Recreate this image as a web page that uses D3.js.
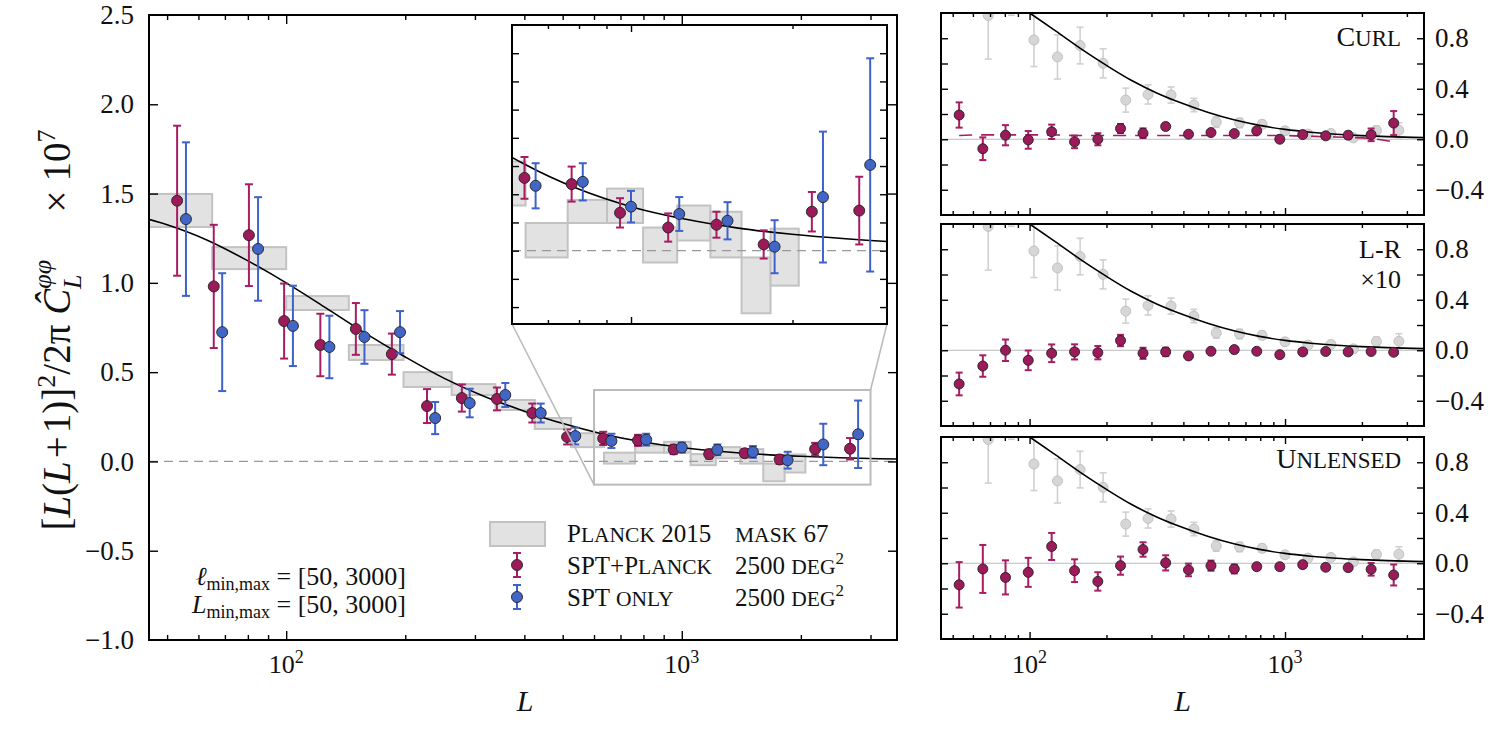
<!DOCTYPE html>
<html>
<head>
<meta charset="utf-8">
<script src="https://cdn.jsdelivr.net/npm/d3@7"></script>
<style>
body { margin: 0; background: #fff; }
text { font-family: "Liberation Serif", "DejaVu Serif", serif; fill: #111; }
</style>
</head>
<body>
<div id="chart"></div>
<script>
// bin centres (red drawn at lRed, blue slightly offset at lBlue)
var lRed  = [53, 65.6, 80.5, 98.8, 122, 150, 185, 227, 278, 341, 419, 513, 633, 775, 954, 1173, 1443, 1767, 2173, 2663];
var lBlue = [55.8, 68.9, 84.9, 104, 128.6, 157.7, 194, 238, 291, 358, 440, 538, 664, 813, 1000, 1230, 1513, 1852, 2279, 2791];

var sptPlanck    = [1.46, 0.98, 1.267, 0.786, 0.652, 0.742, 0.601, 0.31, 0.355, 0.35, 0.271, 0.137, 0.129, 0.118, 0.067, 0.041, 0.046, 0.011, 0.069, 0.071];
var sptPlanckErr = [0.42, 0.345, 0.285, 0.21, 0.175, 0.145, 0.115, 0.095, 0.076, 0.064, 0.053, 0.042, 0.037, 0.031, 0.026, 0.025, 0.023, 0.025, 0.035, 0.06];
var sptOnly      = [1.357, 0.724, 1.19, 0.759, 0.641, 0.697, 0.724, 0.243, 0.327, 0.372, 0.271, 0.142, 0.115, 0.122, 0.078, 0.065, 0.053, 0.007, 0.095, 0.152];
var sptOnlyErr   = [0.43, 0.33, 0.29, 0.225, 0.175, 0.15, 0.118, 0.09, 0.08, 0.067, 0.053, 0.047, 0.04, 0.033, 0.028, 0.03, 0.033, 0.047, 0.116, 0.189];

// Planck 2015 band powers
var planckLmin = [40, 65, 100, 144, 198, 262, 338, 425, 525, 636, 762, 902, 1053, 1219, 1406, 1607, 1820];
var planckLmax = [65, 100, 144, 198, 262, 338, 425, 525, 636, 762, 902, 1053, 1219, 1406, 1607, 1820, 2054];
var planckLo   = [1.313, 1.077, 0.848, 0.568, 0.417, 0.372, 0.288, 0.182, 0.08, -0.012, 0.049, 0.049, -0.021, 0.018, -0.012, -0.111, -0.062];
var planckHi   = [1.498, 1.2, 0.926, 0.652, 0.5, 0.433, 0.344, 0.243, 0.158, 0.049, 0.09, 0.11, 0.041, 0.08, 0.069, -0.012, 0.039];

// fiducial theory curve
var theoryL = [40, 50, 63, 79, 100, 126, 158, 200, 251, 316, 398, 501, 631, 794, 1000, 1259, 1585, 1995, 2512, 3162, 3981];
var theoryV = [1.385, 1.325, 1.24, 1.13, 1.0, 0.86, 0.72, 0.585, 0.465, 0.365, 0.283, 0.212, 0.154, 0.11, 0.078, 0.056, 0.04, 0.029, 0.021, 0.015, 0.011];

// null tests
var curlVal  = [0.192, -0.075, 0.032, -0.005, 0.059, -0.021, 0.0, 0.085, 0.048, 0.101, 0.04, 0.053, 0.045, 0.067, 0.0, 0.037, 0.027, 0.032, 0.035, 0.128];
var curlErr  = [0.1, 0.09, 0.08, 0.07, 0.057, 0.05, 0.048, 0.036, 0.038, 0.023, 0.015, 0.012, 0.01, 0.01, 0.01, 0.01, 0.01, 0.027, 0.05, 0.095];
var curlBias = [0.03, 0.035, 0.035, 0.035, 0.035, 0.03, 0.03, 0.03, 0.03, 0.03, 0.03, 0.03, 0.03, 0.03, 0.03, 0.025, 0.02, 0.015, 0.005, -0.02];
var lrVal    = [-0.267, -0.125, 0.0, -0.08, -0.024, -0.013, -0.019, 0.077, -0.024, -0.013, -0.045, -0.008, 0.005, -0.008, -0.035, -0.013, -0.01, -0.013, -0.01, -0.016];
var lrErr    = [0.09, 0.085, 0.085, 0.078, 0.07, 0.06, 0.053, 0.045, 0.044, 0.033, 0.025, 0.015, 0.012, 0.01, 0.01, 0.01, 0.01, 0.01, 0.01, 0.01];
var unlVal   = [-0.171, -0.045, -0.112, -0.072, 0.133, -0.059, -0.144, -0.019, 0.109, 0.003, -0.053, -0.019, -0.045, -0.027, -0.027, -0.011, -0.032, -0.035, -0.048, -0.093];
var unlErr   = [0.18, 0.19, 0.135, 0.115, 0.107, 0.09, 0.073, 0.072, 0.057, 0.06, 0.05, 0.04, 0.035, 0.02, 0.02, 0.02, 0.015, 0.018, 0.05, 0.083];

var sideNames = ["Curl", "L-R", "Unlensed"];

var red = "#9a1a5a", redBar = "#a81d62", blue = "#4166c6", blueBar = "#3f62ca";

var svg = d3.select("#chart").append("svg")
    .attr("width", 1500)
    .attr("height", 750);
var defs = svg.append("defs");

var xMain = d3.scaleLog().domain([45, 3500]).range([149, 897]);
var yMain = d3.scaleLinear().domain([-1, 2.5]).range([640, 15]);
var xIn = d3.scaleLog().domain([600, 3000]).range([512, 887]);
var yIn = d3.scaleLinear().domain([-0.13, 0.40]).range([324, 25]);
var xSide = d3.scaleLog().domain([45, 3500]).range([941, 1424]);
var sideTops = [13, 224, 437];

var line = function(xs, ys) {
    return d3.line().x(function(d) { return xs(d[0]); }).y(function(d) { return ys(d[1]); }).curve(d3.curveMonotoneX);
};

// LaTeX-like small caps: lower case letters become smaller capitals
function smallCaps(t, str, size, ratio) {
    str.match(/[a-z]+|[^a-z]+/g).forEach(function(run) {
        var low = /[a-z]/.test(run);
        t.append("tspan").style("font-size", (low ? size * ratio : size) + "px").text(run.toUpperCase());
    });
    return t;
}

function clipFor(id, xs, ys) {
    defs.append("clipPath").attr("id", id).append("rect")
        .attr("x", xs.range()[0]).attr("y", ys.range()[1])
        .attr("width", xs.range()[1] - xs.range()[0])
        .attr("height", ys.range()[0] - ys.range()[1]);
    return svg.append("g").attr("clip-path", "url(#" + id + ")");
}

function planckBoxes(g, xs, ys) {
    var rows = planckLmin.map(function(l, i) { return {a: l, b: planckLmax[i], lo: planckLo[i], hi: planckHi[i]}; });
    g.append("g").selectAll("rect")
        .data(rows)
        .enter().append("rect")
        .attr("x", function(d) { return xs(d.a); })
        .attr("width", function(d) { return xs(d.b) - xs(d.a); })
        .attr("y", function(d) { return ys(d.hi); })
        .attr("height", function(d) { return ys(d.lo) - ys(d.hi); })
        .attr("fill", "#e2e2e2")
        .attr("stroke", "#c2c2c2")
        .attr("stroke-width", 2);
}

function errPoints(g, xs, ys, ls, vs, es, st) {
    var rows = ls.map(function(l, i) { return {l: l, v: vs[i], e: es[i]}; });
    var grp = g.append("g");
    grp.selectAll(".bar").data(rows).enter().append("line")
        .attr("x1", function(d) { return xs(d.l); })
        .attr("x2", function(d) { return xs(d.l); })
        .attr("y1", function(d) { return ys(d.v - d.e); })
        .attr("y2", function(d) { return ys(d.v + d.e); })
        .attr("stroke", st.bar).attr("stroke-width", st.w);
    [-1, 1].forEach(function(s) {
        grp.selectAll(".cap" + s).data(rows).enter().append("line")
            .attr("x1", function(d) { return xs(d.l) - st.cap; })
            .attr("x2", function(d) { return xs(d.l) + st.cap; })
            .attr("y1", function(d) { return ys(d.v + s * d.e); })
            .attr("y2", function(d) { return ys(d.v + s * d.e); })
            .attr("stroke", st.bar).attr("stroke-width", st.w);
    });
    grp.selectAll("circle").data(rows).enter().append("circle")
        .attr("cx", function(d) { return xs(d.l); })
        .attr("cy", function(d) { return ys(d.v); })
        .attr("r", st.r)
        .attr("fill", st.fill)
        .attr("stroke", st.edge).attr("stroke-width", 0.9);
}

function drawAxes(xs, ys, yTicks, yLabels, labelSide, big, small) {
    var x0 = xs.range()[0], x1 = xs.range()[1], yTop = ys.range()[1], yBot = ys.range()[0];
    var all = xs.ticks().filter(function(d) { return xs(d) > x0 + 1 && xs(d) < x1 - 1; });
    var major = all.filter(function(d) { return Math.abs(Math.log10(d) - Math.round(Math.log10(d))) < 1e-9; });
    var minor = all.filter(function(d) { return major.indexOf(d) < 0; });
    var g = svg.append("g").attr("color", "#000");
    var add = function(axis, tx, ty) {
        var a = g.append("g").attr("transform", "translate(" + tx + "," + ty + ")").call(axis);
        a.select(".domain").remove();
        a.selectAll("line").attr("stroke-width", 1.4);
        return a;
    };
    add(d3.axisBottom(xs).tickValues(major).tickSizeInner(-big).tickSizeOuter(0).tickFormat(""), 0, yBot);
    add(d3.axisBottom(xs).tickValues(minor).tickSizeInner(-small).tickSizeOuter(0).tickFormat(""), 0, yBot);
    add(d3.axisTop(xs).tickValues(major).tickSizeInner(-big).tickSizeOuter(0).tickFormat(""), 0, yTop);
    add(d3.axisTop(xs).tickValues(minor).tickSizeInner(-small).tickSizeOuter(0).tickFormat(""), 0, yTop);
    add(d3.axisLeft(ys).tickValues(yTicks).tickSizeInner(-big).tickSizeOuter(0).tickFormat(""), x0, 0);
    add(d3.axisRight(ys).tickValues(yTicks).tickSizeInner(-big).tickSizeOuter(0).tickFormat(""), x1, 0);
    if (labelSide) {
        var ax = labelSide == "left" ? d3.axisLeft(ys) : d3.axisRight(ys);
        var a = add(ax.tickValues(yLabels).tickSize(0).tickPadding(labelSide == "left" ? 15 : 11).tickFormat(d3.format(".1f")),
            labelSide == "left" ? x0 : x1, 0);
        a.attr("font-family", null).attr("font-size", null);
        a.selectAll("text").style("font-size", "27px");
    }
    g.append("rect").attr("x", x0).attr("y", yTop).attr("width", x1 - x0).attr("height", yBot - yTop)
        .attr("fill", "none").attr("stroke", "#000").attr("stroke-width", 2);
    return major;
}

function xLabels(xs, yBase, major) {
    major.forEach(function(d) {
        var t = svg.append("text").attr("x", xs(d)).attr("y", yBase)
            .attr("text-anchor", "middle").style("font-size", "26px");
        t.append("tspan").text("10");
        t.append("tspan").attr("dy", -10).style("font-size", "18px").text(Math.round(Math.log10(d)));
    });
}

var theory = theoryL.map(function(l, i) { return [l, theoryV[i]]; });
var redStyle = {bar: redBar, fill: red, edge: "#222", r: 5.5, w: 2, cap: 4};
var blueStyle = {bar: blueBar, fill: blue, edge: "#222", r: 5.5, w: 2, cap: 4};

/* MAIN PANEL */
var gm = clipFor("clipMain", xMain, yMain);
planckBoxes(gm, xMain, yMain);
gm.append("line").attr("x1", xMain.range()[0]).attr("x2", xMain.range()[1])
    .attr("y1", yMain(0)).attr("y2", yMain(0))
    .attr("stroke", "#999").attr("stroke-width", 1.3).attr("stroke-dasharray", "9,6");
gm.append("path").datum(theory).attr("d", line(xMain, yMain))
    .attr("fill", "none").attr("stroke", "#000").attr("stroke-width", 1.6);
errPoints(gm, xMain, yMain, lRed, sptPlanck, sptPlanckErr, redStyle);
errPoints(gm, xMain, yMain, lBlue, sptOnly, sptOnlyErr, blueStyle);

// zoom indicator box and connectors
var bx0 = xMain(xIn.domain()[0]), bx1 = xMain(xIn.domain()[1]);
var by0 = yMain(yIn.domain()[1]), by1 = yMain(yIn.domain()[0]);
svg.append("rect").attr("x", bx0).attr("y", by0).attr("width", bx1 - bx0).attr("height", by1 - by0)
    .attr("fill", "none").attr("stroke", "#bbb").attr("stroke-width", 2);
svg.append("line").attr("x1", xIn.range()[0]).attr("y1", yIn.range()[0]).attr("x2", bx0).attr("y2", by1)
    .attr("stroke", "#bbb").attr("stroke-width", 1.6);
svg.append("line").attr("x1", xIn.range()[1]).attr("y1", yIn.range()[0]).attr("x2", bx1).attr("y2", by0)
    .attr("stroke", "#bbb").attr("stroke-width", 1.6);

var mainMajor = drawAxes(xMain, yMain, d3.range(-0.5, 2.01, 0.5), d3.range(-1, 2.51, 0.5), "left", 9, 5);
xLabels(xMain, 673, mainMajor);

/* INSET */
svg.append("rect").attr("x", xIn.range()[0]).attr("y", yIn.range()[1])
    .attr("width", xIn.range()[1] - xIn.range()[0]).attr("height", yIn.range()[0] - yIn.range()[1])
    .attr("fill", "#fff");
var gi = clipFor("clipIn", xIn, yIn);
planckBoxes(gi, xIn, yIn);
gi.append("line").attr("x1", xIn.range()[0]).attr("x2", xIn.range()[1])
    .attr("y1", yIn(0)).attr("y2", yIn(0))
    .attr("stroke", "#999").attr("stroke-width", 1.3).attr("stroke-dasharray", "9,6");
gi.append("path").datum(theory).attr("d", line(xIn, yIn))
    .attr("fill", "none").attr("stroke", "#000").attr("stroke-width", 1.6);
errPoints(gi, xIn, yIn, lRed, sptPlanck, sptPlanckErr, redStyle);
errPoints(gi, xIn, yIn, lBlue, sptOnly, sptOnlyErr, blueStyle);
drawAxes(xIn, yIn, d3.range(-0.1, 0.376, 0.05), null, null, 7, 4);

/* SIDE PANELS */
var sideVals = [curlVal, lrVal, unlVal];
var sideErrs = [curlErr, lrErr, unlErr];
var greyStyle = {bar: "#d0d0d0", fill: "#d6d6d6", edge: "#bdbdbd", r: 5, w: 1.6, cap: 3.5};
var sideRed = {bar: redBar, fill: red, edge: "#222", r: 5, w: 2, cap: 3.5};
var sideMajor;
sideTops.forEach(function(top, k) {
    var ys = d3.scaleLinear().domain([-0.6, 1.0]).range([top + 202, top]);
    var g = clipFor("clipSide" + k, xSide, ys);
    g.append("line").attr("x1", xSide.range()[0]).attr("x2", xSide.range()[1])
        .attr("y1", ys(0)).attr("y2", ys(0)).attr("stroke", "#bbb").attr("stroke-width", 1.2);
    errPoints(g, xSide, ys, lBlue, sptPlanck, sptPlanckErr, greyStyle);
    g.append("path").datum(theory).attr("d", line(xSide, ys))
        .attr("fill", "none").attr("stroke", "#000").attr("stroke-width", 1.6);
    if (k == 0) {
        g.append("path").datum(lRed.map(function(l, i) { return [l, curlBias[i]]; }))
            .attr("d", line(xSide, ys))
            .attr("fill", "none").attr("stroke", redBar).attr("stroke-width", 1.6)
            .attr("stroke-dasharray", "13,9");
    }
    errPoints(g, xSide, ys, lRed, sideVals[k], sideErrs[k], sideRed);
    sideMajor = drawAxes(xSide, ys, [-0.4, -0.2, 0, 0.2, 0.4, 0.6, 0.8], [-0.4, 0, 0.4, 0.8], "right", 7, 4);
});
xLabels(xSide, 673, sideMajor);

// panel names
smallCaps(svg.append("text").attr("x", 1401).attr("y", 46).attr("text-anchor", "end"), sideNames[0], 28, 0.82);
svg.append("text").attr("x", 1401).attr("y", 258).attr("text-anchor", "end")
    .style("font-size", "26px").text(sideNames[1]);
svg.append("text").attr("x", 1401).attr("y", 288).attr("text-anchor", "end")
    .style("font-size", "26px").text("×10");
smallCaps(svg.append("text").attr("x", 1401).attr("y", 468).attr("text-anchor", "end"), sideNames[2], 28, 0.82);

/* AXIS TITLES */
svg.append("text").attr("x", (xMain.range()[0] + xMain.range()[1]) / 2 + 2).attr("y", 711)
    .attr("text-anchor", "middle").style("font-size", "30px").style("font-style", "italic").text("L");
svg.append("text").attr("x", (xSide.range()[0] + xSide.range()[1]) / 2).attr("y", 711)
    .attr("text-anchor", "middle").style("font-size", "30px").style("font-style", "italic").text("L");

var yl = svg.append("text").attr("transform", "translate(70,330) rotate(-90)")
    .attr("text-anchor", "middle").style("font-size", "39px");
yl.append("tspan").text("[");
yl.append("tspan").style("font-style", "italic").text("L");
yl.append("tspan").text("(");
yl.append("tspan").style("font-style", "italic").text("L");
yl.append("tspan").attr("dx", 3).text("+");
yl.append("tspan").attr("dx", 3).text("1)]");
yl.append("tspan").attr("dy", -15).style("font-size", "26px").text("2");
yl.append("tspan").attr("dy", 15).text("/2π");
yl.append("tspan").attr("dx", 10).style("font-style", "italic").text("Ĉ");
yl.append("tspan").attr("dy", -19).style("font-size", "26px").style("font-style", "italic").text("φφ");
yl.append("tspan").attr("dx", -29).attr("dy", 30).style("font-size", "26px").style("font-style", "italic").text("L");
yl.append("tspan").attr("dx", 62).attr("dy", -11).text("×");
yl.append("tspan").attr("dx", 9).text("10");
yl.append("tspan").attr("dy", -15).style("font-size", "26px").text("7");

/* LEGEND */
svg.append("rect").attr("x", 490).attr("y", 522).attr("width", 55).attr("height", 24)
    .attr("fill", "#e2e2e2").attr("stroke", "#c2c2c2").attr("stroke-width", 2);
[[565, redStyle], [597, blueStyle]].forEach(function(r) {
    var s = r[1];
    svg.append("line").attr("x1", 517).attr("x2", 517).attr("y1", r[0] - 12).attr("y2", r[0] + 12)
        .attr("stroke", s.bar).attr("stroke-width", 2);
    [-12, 12].forEach(function(o) {
        svg.append("line").attr("x1", 513).attr("x2", 521).attr("y1", r[0] + o).attr("y2", r[0] + o)
            .attr("stroke", s.bar).attr("stroke-width", 2);
    });
    svg.append("circle").attr("cx", 517).attr("cy", r[0]).attr("r", 5.5)
        .attr("fill", s.fill).attr("stroke", "#222").attr("stroke-width", 0.9);
});
var legRows = [["Planck 2015", "mask 67", 542], ["SPT+Planck", "2500 deg", 574], ["SPT only", "2500 deg", 606]];
legRows.forEach(function(r, i) {
    smallCaps(svg.append("text").attr("x", 567).attr("y", r[2]), r[0], 25, 0.86);
    var t = smallCaps(svg.append("text").attr("x", 735).attr("y", r[2]), r[1], 25, 0.86);
    if (i > 0) t.append("tspan").attr("dy", -10).style("font-size", "17px").text("2");
});

/* ANNOTATION */
var a1 = svg.append("text").attr("x", 406).attr("y", 585).attr("text-anchor", "end").style("font-size", "26px");
a1.append("tspan").style("font-style", "italic").text("ℓ");
a1.append("tspan").attr("dy", 5).style("font-size", "18px").text("min,max");
a1.append("tspan").attr("dy", -5).text(" = [50, 3000]");
var a2 = svg.append("text").attr("x", 406).attr("y", 613).attr("text-anchor", "end").style("font-size", "26px");
a2.append("tspan").style("font-style", "italic").text("L");
a2.append("tspan").attr("dy", 5).style("font-size", "18px").text("min,max");
a2.append("tspan").attr("dy", -5).text(" = [50, 3000]");
</script>
</body>
</html>
